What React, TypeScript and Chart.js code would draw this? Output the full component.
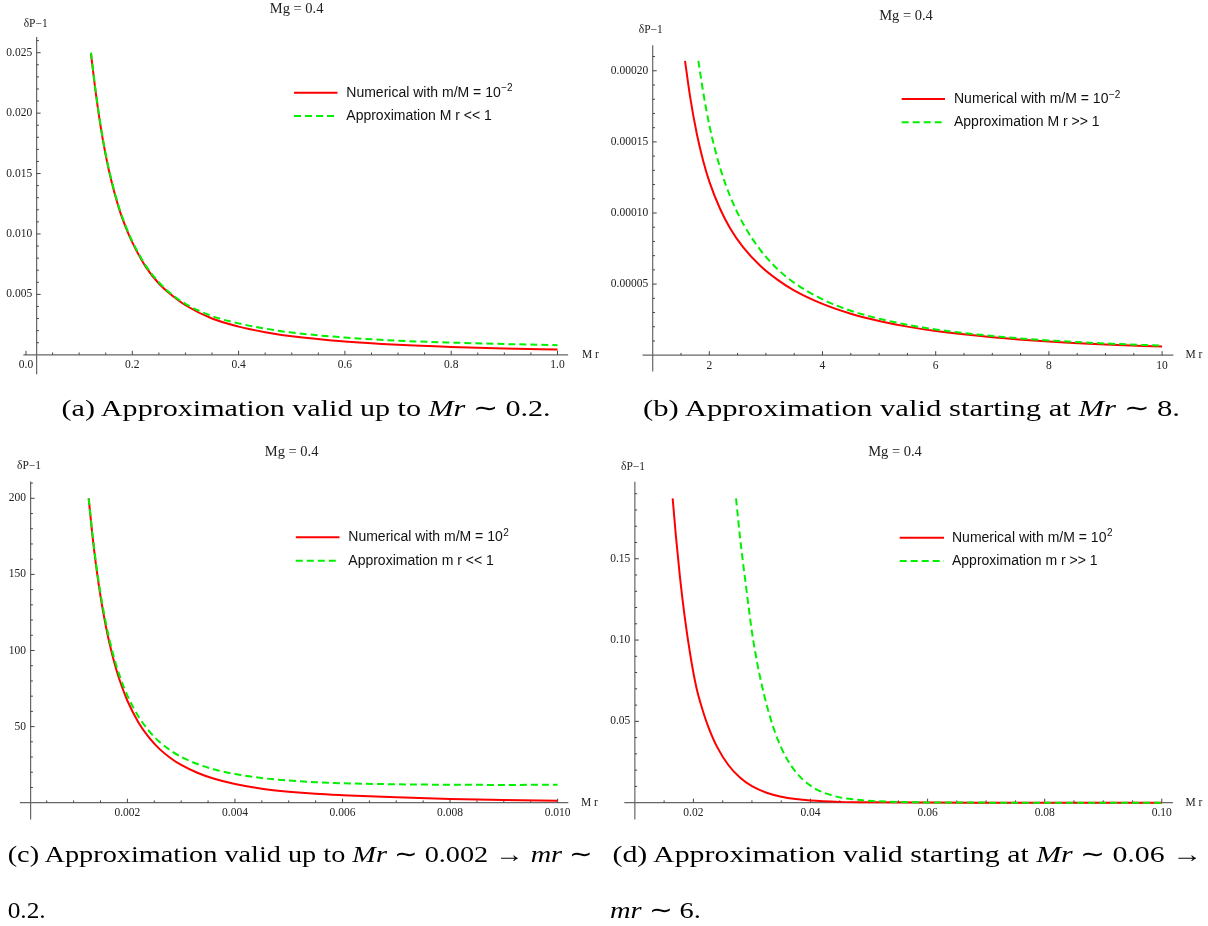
import React, { useEffect, useRef } from "react";
import { Chart, registerables } from "chart.js";

Chart.register(...registerables);

// ---------------- DATA ----------------
// (a) m/M = 10^-2, small M r
const aNumX = [0.1223, 0.13, 0.14, 0.15, 0.16, 0.175, 0.19, 0.2, 0.225, 0.25, 0.275, 0.3, 0.35, 0.4, 0.45, 0.5, 0.6, 0.7, 0.8, 0.9, 1.0];
const aNumY = [0.0249, 0.0221, 0.019, 0.0165, 0.0145, 0.0121, 0.0103, 0.0093, 0.0073, 0.0059, 0.0049, 0.0041, 0.003, 0.00233, 0.00187, 0.00153, 0.0011, 0.00083, 0.00065, 0.00052, 0.00043];
const aAppX = [0.1223, 0.13, 0.14, 0.15, 0.16, 0.175, 0.19, 0.2, 0.225, 0.25, 0.275, 0.3, 0.35, 0.4, 0.45, 0.5, 0.6, 0.7, 0.8, 0.9, 1.0];
const aAppY = [0.025, 0.0222, 0.0191, 0.0166, 0.0146, 0.0122, 0.0104, 0.0094, 0.0074, 0.006, 0.00498, 0.00422, 0.0032, 0.0026, 0.00217, 0.00184, 0.00143, 0.00117, 0.00101, 0.00089, 0.0008];

// (b) m/M = 10^-2, large M r
const bNumX = [1.571, 1.66, 1.78, 1.89, 2.01, 2.19, 2.37, 2.6, 2.9, 3.19, 3.48, 4.0, 4.5, 5.0, 5.5, 6.0, 7.0, 8.0, 9.0, 10.0];
const bNumY = [2.07e-4, 1.82e-4, 1.555e-4, 1.37e-4, 1.21e-4, 1.03e-4, 8.91e-5, 7.58e-5, 6.29e-5, 5.35e-5, 4.6e-5, 3.61e-5, 2.92e-5, 2.41e-5, 2.01e-5, 1.7e-5, 1.27e-5, 9.66e-6, 7.58e-6, 6.07e-6];
const bAppX = [1.806, 1.89, 2.01, 2.19, 2.37, 2.6, 2.9, 3.19, 3.48, 4.0, 4.5, 5.0, 5.5, 6.0, 7.0, 8.0, 9.0, 10.0];
const bAppY = [2.07e-4, 1.855e-4, 1.6e-4, 1.319e-4, 1.116e-4, 9.23e-5, 7.41e-5, 6.12e-5, 5.15e-5, 3.93e-5, 3.13e-5, 2.57e-5, 2.14e-5, 1.815e-5, 1.35e-5, 1.04e-5, 8.25e-6, 6.67e-6];

// (c) m/M = 10^2, small m r
const cX = [0.00128, 0.00135, 0.00142, 0.0015, 0.0016, 0.0017, 0.0018, 0.0019, 0.002, 0.0022, 0.0024, 0.0026, 0.0028, 0.003, 0.0033, 0.0036, 0.004, 0.0045, 0.005, 0.0055, 0.006, 0.007, 0.008, 0.009, 0.01];
const cNumY = [200, 175.5, 155.1, 135.6, 115.8, 99.8, 86.7, 76.0, 67.0, 53.1, 42.9, 35.2, 29.4, 24.8, 19.7, 15.9, 12.3, 9.2, 7.2, 5.8, 4.9, 3.5, 2.5, 1.8, 1.3];
const cAppY = [200, 176.5, 156.5, 137.5, 118, 102.3, 89.5, 79.1, 70.4, 57.0, 47.2, 39.9, 34.4, 30.1, 25.4, 22.0, 18.8, 16.2, 14.6, 13.5, 12.8, 12.1, 11.8, 11.7, 11.75];

// (d) m/M = 10^2, large m r
const dNumX = [0.01646, 0.017, 0.0177, 0.0185, 0.0195, 0.0205, 0.0215, 0.0225, 0.024, 0.026, 0.028, 0.03, 0.0325, 0.035, 0.0375, 0.04, 0.045, 0.05, 0.06, 0.07, 0.08, 0.1];
const dNumY = [0.1871, 0.1644, 0.1389, 0.1147, 0.0902, 0.071, 0.0578, 0.0471, 0.0346, 0.023, 0.0153, 0.0101, 0.00607, 0.00363, 0.00218, 0.0013, 0.000478, 0.000171, 0.000022, 0.0000029, 0.0000004, 0];
const dAppX = [0.02728, 0.028, 0.029, 0.03, 0.031, 0.032, 0.033, 0.034, 0.035, 0.036, 0.0375, 0.039, 0.0405, 0.042, 0.045, 0.0475, 0.05, 0.055, 0.06, 0.07, 0.08, 0.09, 0.1];
const dAppY = [0.1871, 0.162, 0.1327, 0.105, 0.084, 0.0674, 0.0538, 0.0427, 0.0338, 0.0267, 0.0188, 0.0132, 0.00926, 0.00649, 0.00325, 0.00193, 0.00114, 0.0004, 0.00014, 0.000017, 0.000002, 0.0000003, 0];

// ---------------- TICKS ----------------
const aXTicks = [0, 0.2, 0.4, 0.6, 0.8, 1.0];
const aXLabels = ["0.0", "0.2", "0.4", "0.6", "0.8", "1.0"];
const aYTicks = [0.005, 0.01, 0.015, 0.02, 0.025];
const aYLabels = ["0.005", "0.010", "0.015", "0.020", "0.025"];

const bXTicks = [2, 4, 6, 8, 10];
const bXLabels = ["2", "4", "6", "8", "10"];
const bYTicks = [0.00005, 0.0001, 0.00015, 0.0002];
const bYLabels = ["0.00005", "0.00010", "0.00015", "0.00020"];

const cXTicks = [0.002, 0.004, 0.006, 0.008, 0.01];
const cXLabels = ["0.002", "0.004", "0.006", "0.008", "0.010"];
const cYTicks = [50, 100, 150, 200];
const cYLabels = ["50", "100", "150", "200"];

const dXTicks = [0.02, 0.04, 0.06, 0.08, 0.1];
const dXLabels = ["0.02", "0.04", "0.06", "0.08", "0.10"];
const dYTicks = [0.05, 0.1, 0.15];
const dYLabels = ["0.05", "0.10", "0.15"];

// ---------------- TEXT ----------------
const TITLE = "Mg = 0.4";
const Y_LABEL = "\u03b4P\u22121";
const X_LABEL = "M r";
const NUM_LABEL = "Numerical with m/M = 10";
const SUP_SMALL = "\u22122";
const SUP_LARGE = "2";
const aAppLabel = "Approximation M r << 1";
const bAppLabel = "Approximation M r >> 1";
const cAppLabel = "Approximation m r << 1";
const dAppLabel = "Approximation m r >> 1";

// ---------------- STYLE ----------------
const SERIF = '"Liberation Serif", "Times New Roman", serif';
const SANS = '"Liberation Sans", Arial, sans-serif';
const RED = "#ff0000";
const GREEN = "#00f000";
const AXIS = "#666666";

function range(start: number, stop: number, step: number): number[] {
  const out: number[] = [];
  const n = Math.round((stop - start) / step);
  for (let i = 0; i <= n; i++) out.push(+(start + i * step).toPrecision(10));
  return out;
}

type Spec = {
  left: number; top: number; w: number; h: number;
  pad: { left: number; right: number; top: number; bottom: number };
  xMin: number; xMax: number; yMin: number; yMax: number; originX: number;
  numX: number[]; numY: number[]; appX: number[]; appY: number[];
  xTicks: number[]; xLabels: string[]; yTicks: number[]; yLabels: string[];
  xMinor: number[]; yMinor: number[];
  title: [number, number]; yLab: [number, number]; xLabX: number;
  legX0: number; legX1: number; legY: [number, number]; legTx: number;
  sup: string; appLabel: string;
};

const specs: Spec[] = [
  {
    left: 0, top: 0, w: 604, h: 380,
    pad: { left: 23.34, right: 35.87, top: 37.0, bottom: 5.87 },
    xMin: -0.005, xMax: 1.02, yMin: -0.0016, yMax: 0.0263, originX: 0.02,
    numX: aNumX, numY: aNumY, appX: aAppX, appY: aAppY,
    xTicks: aXTicks, xLabels: aXLabels, yTicks: aYTicks, yLabels: aYLabels,
    xMinor: range(0.05, 1.0, 0.05), yMinor: range(0.001, 0.026, 0.001),
    title: [296.6, 9.5], yLab: [23.7, 24], xLabX: 582,
    legX0: 294, legX1: 337.5, legY: [92.7, 116], legTx: 346.3,
    sup: SUP_SMALL, appLabel: aAppLabel,
  },
  {
    left: 604, top: 0, w: 604, h: 380,
    pad: { left: 38.51, right: 34.58, top: 45.2, bottom: 8.45 },
    xMin: 0.82, xMax: 10.2, yMin: -0.0000115, yMax: 0.000218, originX: 1,
    numX: bNumX, numY: bNumY, appX: bAppX, appY: bAppY,
    xTicks: bXTicks, xLabels: bXLabels, yTicks: bYTicks, yLabels: bYLabels,
    xMinor: range(1.5, 10, 0.5), yMinor: range(0.00001, 0.00021, 0.00001),
    title: [302, 16], yLab: [34.8, 30], xLabX: 581.5,
    legX0: 297.7, legX1: 341, legY: [99, 122.3], legTx: 350,
    sup: SUP_SMALL, appLabel: bAppLabel,
  },
  {
    left: 0, top: 440, w: 604, h: 400,
    pad: { left: 19.85, right: 35.64, top: 41.56, bottom: 20.56 },
    xMin: 0, xMax: 0.0102, yMin: -11, yMax: 211, originX: 0.0002,
    numX: cX, numY: cNumY, appX: cX, appY: cAppY,
    xTicks: cXTicks, xLabels: cXLabels, yTicks: cYTicks, yLabels: cYLabels,
    xMinor: range(0.0005, 0.01, 0.0005), yMinor: range(10, 210, 10),
    title: [291.6, 12], yLab: [17, 26], xLabX: 581,
    legX0: 295.8, legX1: 339.5, legY: [97.3, 120.7], legTx: 348.3,
    sup: SUP_LARGE, appLabel: cAppLabel,
  },
  {
    left: 604, top: 440, w: 604, h: 400,
    pad: { left: 20.31, right: 35.08, top: 41.68, bottom: 20.6 },
    xMin: 0.0082, xMax: 0.1019, yMin: -0.0103, yMax: 0.1974, originX: 0.01,
    numX: dNumX, numY: dNumY, appX: dAppX, appY: dAppY,
    xTicks: dXTicks, xLabels: dXLabels, yTicks: dYTicks, yLabels: dYLabels,
    xMinor: range(0.015, 0.1, 0.005), yMinor: range(0.01, 0.19, 0.01),
    title: [291, 12], yLab: [17, 27.3], xLabX: 581.5,
    legX0: 295.7, legX1: 340, legY: [97.7, 121], legTx: 348,
    sup: SUP_LARGE, appLabel: dAppLabel,
  },
];

function makePlugin(s: Spec) {
  return {
    id: "mathematicaAxes",
    beforeDatasetsDraw(chart: any) {
      const ctx = chart.ctx as CanvasRenderingContext2D;
      const xs = chart.scales.x;
      const ys = chart.scales.y;
      const area = chart.chartArea;
      const ox = xs.getPixelForValue(s.originX);
      const oy = ys.getPixelForValue(0);
      ctx.save();
      ctx.strokeStyle = AXIS;
      ctx.lineWidth = 1.2;
      ctx.beginPath();
      ctx.moveTo(area.left, oy);
      ctx.lineTo(area.right, oy);
      ctx.moveTo(ox, area.top);
      ctx.lineTo(ox, area.bottom);
      ctx.stroke();
      ctx.lineWidth = 1;
      ctx.strokeStyle = "#444";
      ctx.beginPath();
      s.xTicks.forEach((v) => {
        const p = xs.getPixelForValue(v);
        ctx.moveTo(p, oy);
        ctx.lineTo(p, oy - 4);
      });
      s.xMinor.forEach((v) => {
        if (s.xTicks.some((t) => Math.abs(t - v) < 1e-12)) return;
        const p = xs.getPixelForValue(v);
        ctx.moveTo(p, oy);
        ctx.lineTo(p, oy - 2.3);
      });
      s.yTicks.forEach((v) => {
        const p = ys.getPixelForValue(v);
        ctx.moveTo(ox, p);
        ctx.lineTo(ox + 4, p);
      });
      s.yMinor.forEach((v) => {
        if (s.yTicks.some((t) => Math.abs(t - v) < 1e-12)) return;
        const p = ys.getPixelForValue(v);
        ctx.moveTo(ox, p);
        ctx.lineTo(ox + 2.3, p);
      });
      ctx.stroke();
      ctx.restore();
    },
    afterDraw(chart: any) {
      const ctx = chart.ctx as CanvasRenderingContext2D;
      const xs = chart.scales.x;
      const ys = chart.scales.y;
      const ox = xs.getPixelForValue(s.originX);
      const oy = ys.getPixelForValue(0);
      ctx.save();
      ctx.fillStyle = "#222";
      ctx.font = `11.5px ${SERIF}`;
      ctx.textBaseline = "middle";
      ctx.textAlign = "center";
      s.xTicks.forEach((v, i) => {
        ctx.fillText(s.xLabels[i], xs.getPixelForValue(v), oy + 10.5);
      });
      ctx.textAlign = "right";
      s.yTicks.forEach((v, i) => {
        ctx.fillText(s.yLabels[i], ox - 4.5, ys.getPixelForValue(v));
      });
      ctx.textAlign = "left";
      ctx.fillText(X_LABEL, s.xLabX, oy);
      ctx.fillText(Y_LABEL, s.yLab[0], s.yLab[1]);
      ctx.textAlign = "center";
      ctx.font = `14.5px ${SERIF}`;
      ctx.fillText(TITLE, s.title[0], s.title[1]);

      // legend
      const entries = [
        { color: RED, dash: [] as number[], text: NUM_LABEL, sup: s.sup },
        { color: GREEN, dash: [7, 4], text: s.appLabel, sup: "" },
      ];
      entries.forEach((e, i) => {
        const y = s.legY[i];
        ctx.strokeStyle = e.color;
        ctx.lineWidth = 2;
        ctx.setLineDash(e.dash);
        ctx.beginPath();
        ctx.moveTo(s.legX0, y);
        ctx.lineTo(s.legX1, y);
        ctx.stroke();
        ctx.setLineDash([]);
        ctx.fillStyle = "#111";
        ctx.font = `14px ${SANS}`;
        ctx.textAlign = "left";
        ctx.textBaseline = "middle";
        ctx.fillText(e.text, s.legTx, y);
        if (e.sup) {
          const w = ctx.measureText(e.text).width;
          ctx.font = `10px ${SANS}`;
          ctx.textBaseline = "alphabetic";
          ctx.fillText(e.sup, s.legTx + w + 0.5, y - 1.5);
        }
      });
      ctx.restore();
    },
  };
}

function pts(xs: number[], ys: number[]) {
  return xs.map((x, i) => ({ x, y: ys[i] }));
}

function Panel({ s }: { s: Spec }) {
  const ref = useRef<HTMLCanvasElement>(null);
  useEffect(() => {
    if (!ref.current) return;
    const chart = new Chart(ref.current, {
      type: "line",
      data: {
        datasets: [
          {
            label: NUM_LABEL,
            data: pts(s.numX, s.numY),
            borderColor: RED,
            borderWidth: 2,
            pointRadius: 0,
            fill: false,
            cubicInterpolationMode: "monotone",
            order: 1,
          },
          {
            label: s.appLabel,
            data: pts(s.appX, s.appY),
            borderColor: GREEN,
            borderWidth: 2,
            borderDash: [7, 4],
            pointRadius: 0,
            fill: false,
            cubicInterpolationMode: "monotone",
            order: 0,
          },
        ],
      },
      options: {
        animation: false,
        responsive: false,
        events: [],
        layout: { padding: s.pad },
        scales: {
          x: { type: "linear", min: s.xMin, max: s.xMax, display: false },
          y: { type: "linear", min: s.yMin, max: s.yMax, display: false },
        },
        plugins: {
          legend: { display: false },
          tooltip: { enabled: false },
          title: { display: false },
        },
      },
      plugins: [makePlugin(s)],
    } as any);
    return () => chart.destroy();
  }, [s]);
  return (
    <canvas
      ref={ref}
      width={s.w}
      height={s.h}
      style={{ position: "absolute", left: s.left, top: s.top, width: s.w, height: s.h }}
    />
  );
}

const capFont = { fontFamily: SERIF, fontSize: 24, fill: "#000" } as const;

export default function App() {
  return (
    <div style={{ position: "absolute", left: 0, top: 0, width: 1208, height: 926, background: "#fff", overflow: "hidden" }}>
      {specs.map((s, i) => (
        <Panel key={i} s={s} />
      ))}
      <svg width={1208} height={926} style={{ position: "absolute", left: 0, top: 0, pointerEvents: "none" }}>
        <text x={61.6} y={416} textLength={489} lengthAdjust="spacingAndGlyphs" {...capFont}>
          {"(a) Approximation valid up to "}
          <tspan fontStyle="italic">Mr</tspan>
          {" \u223c 0.2."}
        </text>
        <text x={643} y={416} textLength={537} lengthAdjust="spacingAndGlyphs" {...capFont}>
          {"(b) Approximation valid starting at "}
          <tspan fontStyle="italic">Mr</tspan>
          {" \u223c 8."}
        </text>
        <text x={7.7} y={862} textLength={585} lengthAdjust="spacingAndGlyphs" {...capFont}>
          {"(c) Approximation valid up to "}
          <tspan fontStyle="italic">Mr</tspan>
          {" \u223c 0.002 \u2192 "}
          <tspan fontStyle="italic">mr</tspan>
          {" \u223c"}
        </text>
        <text x={7.7} y={918} textLength={38} lengthAdjust="spacingAndGlyphs" {...capFont}>
          {"0.2."}
        </text>
        <text x={612.5} y={862} textLength={589.5} lengthAdjust="spacingAndGlyphs" {...capFont}>
          {"(d) Approximation valid starting at "}
          <tspan fontStyle="italic">Mr</tspan>
          {" \u223c 0.06 \u2192"}
        </text>
        <text x={610} y={918} textLength={91} lengthAdjust="spacingAndGlyphs" {...capFont}>
          <tspan fontStyle="italic">mr</tspan>
          {" \u223c 6."}
        </text>
      </svg>
    </div>
  );
}
